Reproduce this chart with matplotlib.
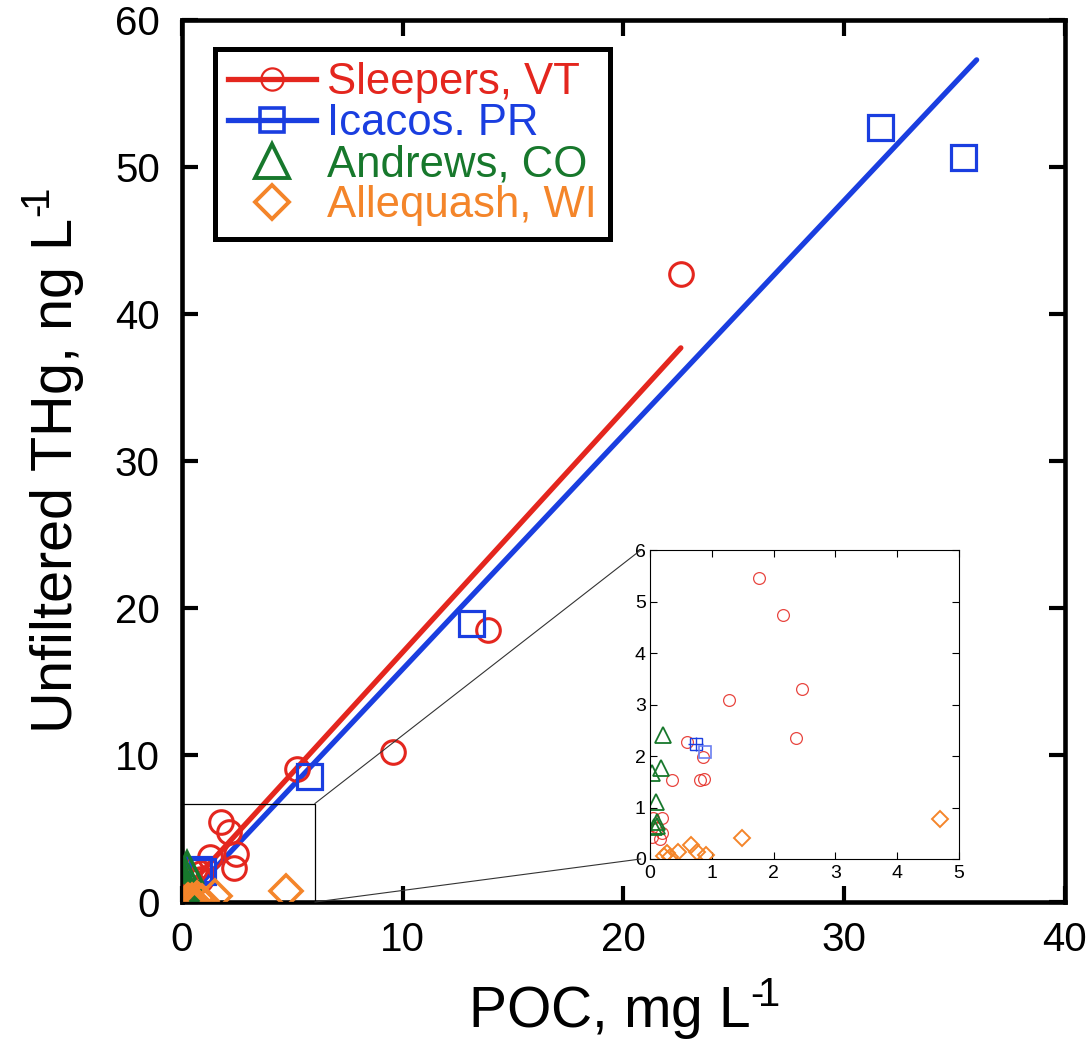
import matplotlib
matplotlib.use("Agg")
import matplotlib.pyplot as plt
import numpy as np
from matplotlib.patches import Rectangle, ConnectionPatch
from matplotlib.lines import Line2D

plt.rcParams['font.family'] = ['Liberation Sans', 'DejaVu Sans']
plt.rcParams['mathtext.fontset'] = 'custom'
plt.rcParams['mathtext.rm'] = 'Liberation Sans'
plt.rcParams['axes.unicode_minus'] = False

# ---- data ----
sleepers_x = [22.6, 13.86, 9.56, 5.2, 1.76, 2.15, 2.46, 1.28, 2.36, 0.60, 0.86, 0.35, 0.81, 0.87,
              0.05, 0.19, 0.03, 0.20, 0.16, 0.12]
sleepers_y = [42.7, 18.5, 10.2, 9.05, 5.46, 4.74, 3.30, 3.09, 2.35, 2.27, 1.98, 1.53, 1.53, 1.55,
              0.80, 0.80, 0.42, 0.50, 0.38, 0.60]
icacos_x = [31.6, 35.4, 13.1, 5.75, 0.74, 0.89]
icacos_y = [52.7, 50.7, 19.0, 8.57, 2.23, 2.08]
andrews_x = [0.21, 0.04, 0.17, 0.09, 0.11, 0.06, 0.12]
andrews_y = [2.41, 1.67, 1.77, 1.11, 0.72, 0.62, 0.65]
allequash_x = [4.69, 1.49, 0.66, 0.76, 0.90, 0.27, 0.45, 0.23, 0.32]
allequash_y = [0.78, 0.41, 0.27, 0.14, 0.08, 0.11, 0.14, 0.06, 0.04]

# regression fits (slope, intercept, x range)
sleepers_fit = (1.643, 0.57, 0.0, 22.6)
icacos_fit = (1.594, -0.09, 0.1, 36.0)

RED = '#e4261e'
BLUE = '#1a3ee0'
GREEN = '#17782c'
ORANGE = '#f4852a'

fig = plt.figure(figsize=(10.91, 10.58), dpi=100)
ax = fig.add_axes([0.1668, 0.1474, 0.8093, 0.8336])

for (m, b, x0, x1), c in [(icacos_fit, BLUE), (sleepers_fit, RED)]:
    xs = np.array([x0, x1])
    ax.plot(xs, m * xs + b, color=c, lw=3.8, solid_capstyle='round', zorder=2)

ax.plot(sleepers_x, sleepers_y, 'o', ms=17, mfc='none', mec=RED, mew=2.2, zorder=3)
ax.plot(icacos_x, icacos_y, 's', ms=18, mfc='none', mec=BLUE, mew=2.3, zorder=3)
ax.plot(andrews_x, andrews_y, '^', ms=21, mfc='none', mec=GREEN, mew=2.6, zorder=4)
ax.plot(allequash_x, allequash_y, 'D', ms=16.5, mfc='none', mec=ORANGE, mew=2.6, zorder=5)

ax.set_xlim(0, 40)
ax.set_ylim(0, 60)
ax.set_xticks([0, 10, 20, 30, 40])
ax.set_yticks([0, 10, 20, 30, 40, 50, 60])
for s in ax.spines.values():
    s.set_linewidth(3.3)
ax.tick_params(direction='in', length=11.5, width=3, top=True, right=True,
               labelsize=29)
ax.tick_params(axis='x', pad=14)
ax.tick_params(axis='y', pad=16)
sup = r'$^{\mathregular{\u2010}\!\mathregular{1}}$'.replace(r'\u2010', '\u2010')
ax.set_xlabel('POC, mg L' + sup, fontsize=41, labelpad=12)
ax.set_ylabel('Unfiltered THg, ng L' + sup, fontsize=41.5, labelpad=20)

# zoom rectangle
ax.add_patch(Rectangle((0, 0), 6.02, 6.7, fill=False, ec='black', lw=0.9, zorder=6, clip_on=False))

# legend
handles = [
    Line2D([], [], color=RED, lw=3.8, marker='o', ms=16, mfc='none', mec=RED, mew=1.6),
    Line2D([], [], color=BLUE, lw=3.8, marker='s', ms=17, mfc='none', mec=BLUE, mew=2.6),
    Line2D([], [], color='none', marker='^', ms=25, mfc='none', mec=GREEN, mew=2.8),
    Line2D([], [], color='none', marker='D', ms=17.5, mfc='none', mec=ORANGE, mew=2.8),
]
labels = ['Sleepers, VT', 'Icacos. PR', 'Andrews, CO', 'Allequash, WI']
leg = ax.legend(handles, labels, loc='upper left', bbox_to_anchor=(0.0374, 0.967),
                fontsize=31.5, frameon=True, fancybox=False, framealpha=1,
                handlelength=2.0, handletextpad=0.25, borderpad=0.3,
                labelspacing=0.0, borderaxespad=0)
leg.get_frame().set_edgecolor('black')
leg.get_frame().set_linewidth(3.6)
for t, c in zip(leg.get_texts(), [RED, BLUE, GREEN, ORANGE]):
    t.set_color(c)

# inset
axi = fig.add_axes([0.5958, 0.1881, 0.2832, 0.2920])
axi.plot(sleepers_x, sleepers_y, 'o', ms=8.5, mfc='none', mec=RED, mew=0.9, alpha=0.85)
axi.errorbar(icacos_x[4:5], icacos_y[4:5], xerr=0.12, yerr=0.13, fmt='none',
             ecolor=BLUE, elinewidth=1.0, capsize=0)
axi.plot(icacos_x[4:5], icacos_y[4:5], 's', ms=8, mfc='none', mec=BLUE, mew=1.0)
axi.plot(icacos_x[5:], icacos_y[5:], 's', ms=8, mfc='none', mec='#6b7ff0', mew=1.2)
axi.plot(andrews_x, andrews_y, '^', ms=11, mfc='none', mec=GREEN, mew=1.3)
axi.plot(allequash_x, allequash_y, 'D', ms=8, mfc='none', mec=ORANGE, mew=1.4)
axi.set_xlim(0, 5)
axi.set_ylim(0, 6)
axi.set_xticks([0, 1, 2, 3, 4, 5])
axi.set_yticks([0, 1, 2, 3, 4, 5, 6])
for s in axi.spines.values():
    s.set_linewidth(0.8)
axi.tick_params(direction='in', length=5, width=0.8, top=True, right=True,
                labelsize=14)
axi.tick_params(axis='x', pad=4)
axi.tick_params(axis='y', pad=3)

for (xa, ya), (xb, yb) in [((6.02, 6.7), (-0.03, 1.0)), ((6.02, 0.0), (-0.03, 0.0))]:
    con = ConnectionPatch(xyA=(xa, ya), coordsA=ax.transData,
                          xyB=(xb, yb), coordsB=axi.transAxes,
                          color='#333333', lw=0.8)
    fig.add_artist(con)

fig.savefig('out.png', dpi=100)
